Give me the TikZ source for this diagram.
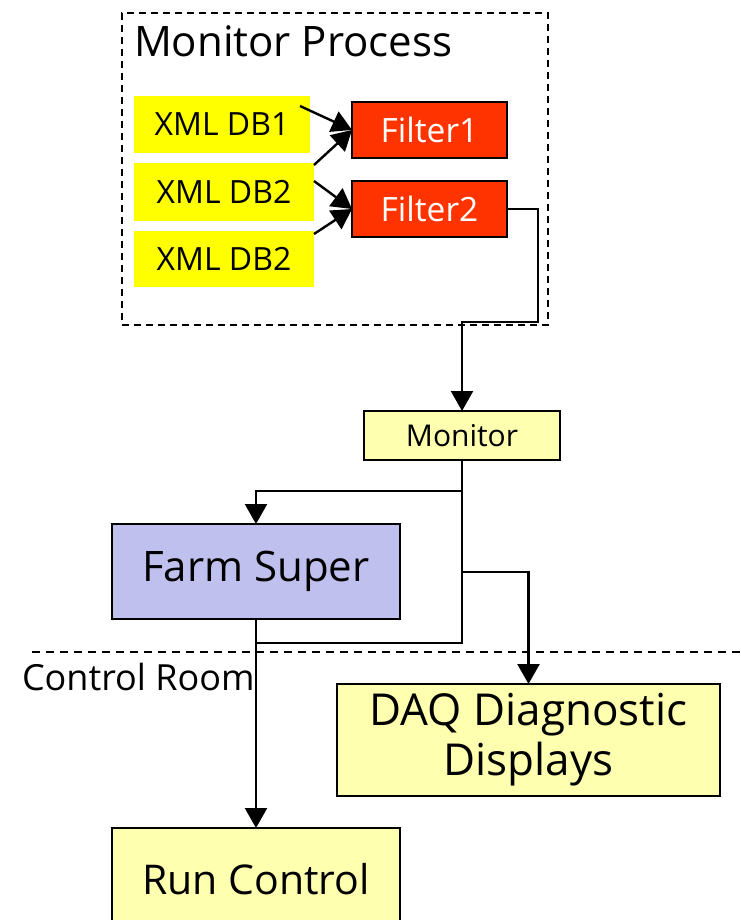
\documentclass[tikz,border=0pt]{standalone}
\usepackage{fontspec}
\setmainfont{Open Sans}
\usetikzlibrary{arrows.meta,calc}
\definecolor{dbyellow}{HTML}{FFFF00}
\definecolor{filterred}{HTML}{FF3300}
\definecolor{paleyellow}{HTML}{FFFFB0}
\definecolor{lavender}{HTML}{C0C0EE}
\newcommand{\fs}[1]{\fontsize{#1}{#1}\selectfont}
\begin{document}
\begin{tikzpicture}[x=1pt,y=-1pt,
  every node/.style={inner sep=0pt, outer sep=0pt},
  box/.style={draw=black, line width=2.4pt, rectangle},
  dbbox/.style={rectangle, fill=dbyellow, minimum width=180pt, font=\fs{32}},
  filterbox/.style={box, fill=filterred, text=white, minimum width=155pt, minimum height=56pt, font=\fs{33.5}},
  palebox/.style={box, fill=paleyellow},
  procbox/.style={draw=black, line width=1.6pt, dash pattern=on 7pt off 5pt},
  sepline/.style={draw=black, line width=1.6pt, dash pattern=on 8pt off 6pt},
  wire/.style={draw=black, line width=2.4pt},
  flow/.style={wire, -{Triangle[length=20pt,width=22pt]}}
]
\useasboundingbox (0,0) rectangle (740,920);
\clip (0,0) rectangle (740,920);

% Monitor process frame and its contents
\node[procbox, minimum width=426pt, minimum height=312pt] (proc) at (335,169) {};
\node[anchor=base west, font=\fs{42}] (ptitle) at (134,57) {Monitor Process};

\node[dbbox, minimum width=176pt, minimum height=57pt] (db1) at (222,124.5) {XML DB1};
\node[dbbox, minimum height=58pt] (db2) at (224,192) {XML DB2};
\node[dbbox, minimum height=56pt] (db3) at (224,259) {XML DB2};

\node[filterbox] (f1) at (429.5,130) {Filter1};
\node[filterbox] (f2) at (429.5,209) {Filter2};

\draw[flow] ([shift={(-10pt,-10pt)}]db1.north east) -- (f1.west);
\draw[flow] ([yshift=-2pt]db2.north east) -- (f1.west);
\draw[flow] ([yshift=-18pt]db2.north east) -- (f2.west);
\draw[flow] ([yshift=-3pt]db3.north east) -- (f2.west);

% Downstream consumers
\node[palebox, minimum width=196pt, minimum height=49pt, font=\fs{30}] (mon) at (462,435.5) {Monitor};
\node[box, fill=lavender, minimum width=288pt, minimum height=95pt, font=\fs{42}] (farm) at (256,571.5) {Farm Super};
\node[palebox, minimum width=383pt, minimum height=112pt, align=center, font=\fontsize{44}{50}\selectfont] (daq) at (528.5,740) {DAQ Diagnostic\\Displays};
\node[palebox, minimum width=288pt, minimum height=102pt, font=\fs{41}] (run) at (256,879) {Run Control};

% Control room boundary
\coordinate (sepL) at (32,652);
\coordinate (sepR) at (740,652);
\draw[sepline] (sepL) -- (sepR);
\node[anchor=base west, font=\fs{36}] (ctrl) at (22,690) {Control Room};

% Connections
\coordinate (f2turn) at (538,322);
\coordinate (split1) at (462,491);
\coordinate (split2) at (462,572);
\coordinate (split3) at (462,643);

\draw[flow] (f2.east) -| (f2turn) -| (mon.north);
\draw[flow] (mon.south) -- (split1) -| (farm.north);
\draw[flow] (split2) -| (daq.north);
\draw[wire] (mon.south) -- (split3) -- (split3 -| farm.south);
\draw[flow] (farm.south) -- (run.north);
\end{tikzpicture}
\end{document}
